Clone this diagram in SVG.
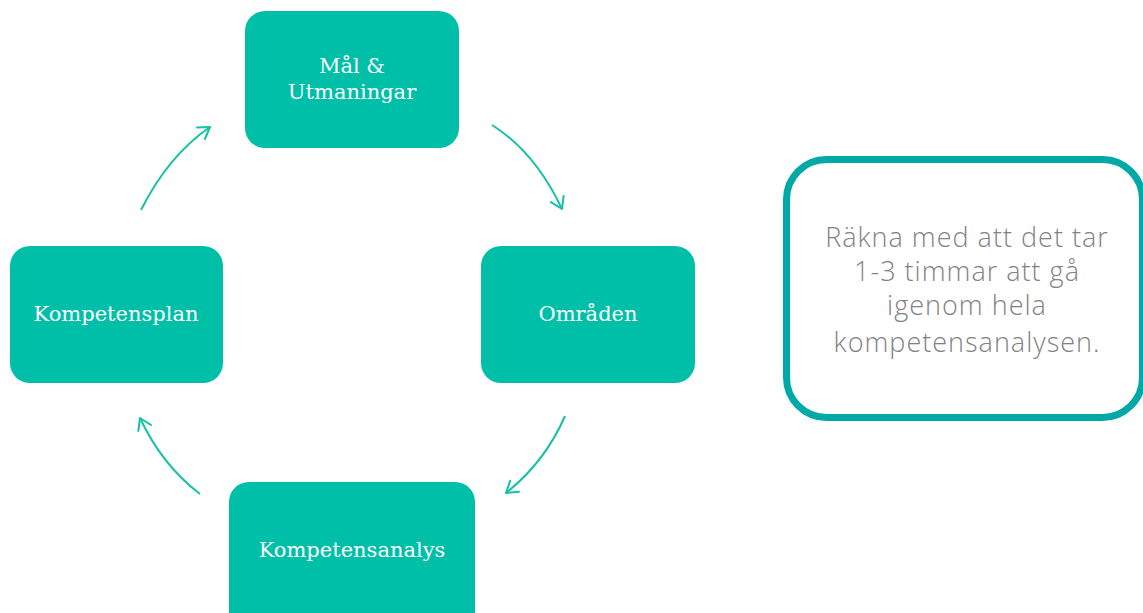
<svg xmlns="http://www.w3.org/2000/svg" width="1143" height="613" viewBox="0 0 1143 613">
<style>
.node{fill:#00BFA8}
.lbl{font-family:"DejaVu Serif",Georgia,serif;font-size:21px;fill:#ffffff;text-anchor:middle}
.conn{fill:none;stroke:#14C1A6;stroke-width:2;marker-end:url(#ah)}
.note{font-family:"Open Sans","Liberation Sans",sans-serif;font-weight:300;font-size:27px;letter-spacing:1px;fill:#828282;text-anchor:middle}
</style>
<defs>
<marker id="ah" markerUnits="userSpaceOnUse" markerWidth="24" markerHeight="24" refX="12" refY="8" orient="auto" viewBox="0 0 24 16">
<path d="M1,1 L12,8 L1,15" fill="none" stroke="#14C1A6" stroke-width="2" stroke-linecap="round" stroke-linejoin="round"/>
</marker>
</defs>
<rect width="1143" height="613" fill="#ffffff"/>
<g id="connectors">
<path class="conn" d="M141,210 Q168,156 210,127"/>
<path class="conn" d="M492,125 Q535,152 562,209"/>
<path class="conn" d="M565,416 Q545,462 506,493"/>
<path class="conn" d="M200,494 Q162,465 140,418"/>
</g>
<g id="node-mal">
<rect class="node" x="245" y="11" width="214" height="137" rx="20"/>
<text class="lbl" x="352" y="73">Mål &amp;</text>
<text class="lbl" x="352" y="99">Utmaningar</text>
</g>
<g id="node-omraden">
<rect class="node" x="481" y="246" width="214" height="137" rx="20"/>
<text class="lbl" x="588" y="321">Områden</text>
</g>
<g id="node-kompetensanalys">
<rect class="node" x="229" y="482" width="246" height="150" rx="20"/>
<text class="lbl" x="352" y="557">Kompetensanalys</text>
</g>
<g id="node-kompetensplan">
<rect class="node" x="10" y="246" width="213" height="137" rx="20"/>
<text class="lbl" x="116" y="321">Kompetensplan</text>
</g>
<g id="note">
<rect x="786.5" y="159.5" width="356" height="258" rx="40" fill="#ffffff" stroke="#00A9A5" stroke-width="7"/>
<text class="note" x="967" y="247">Räkna med att det tar</text>
<text class="note" x="967" y="281">1-3 timmar att gå</text>
<text class="note" x="967" y="315">igenom hela</text>
<text class="note" x="967" y="352">kompetensanalysen.</text>
</g>
</svg>
